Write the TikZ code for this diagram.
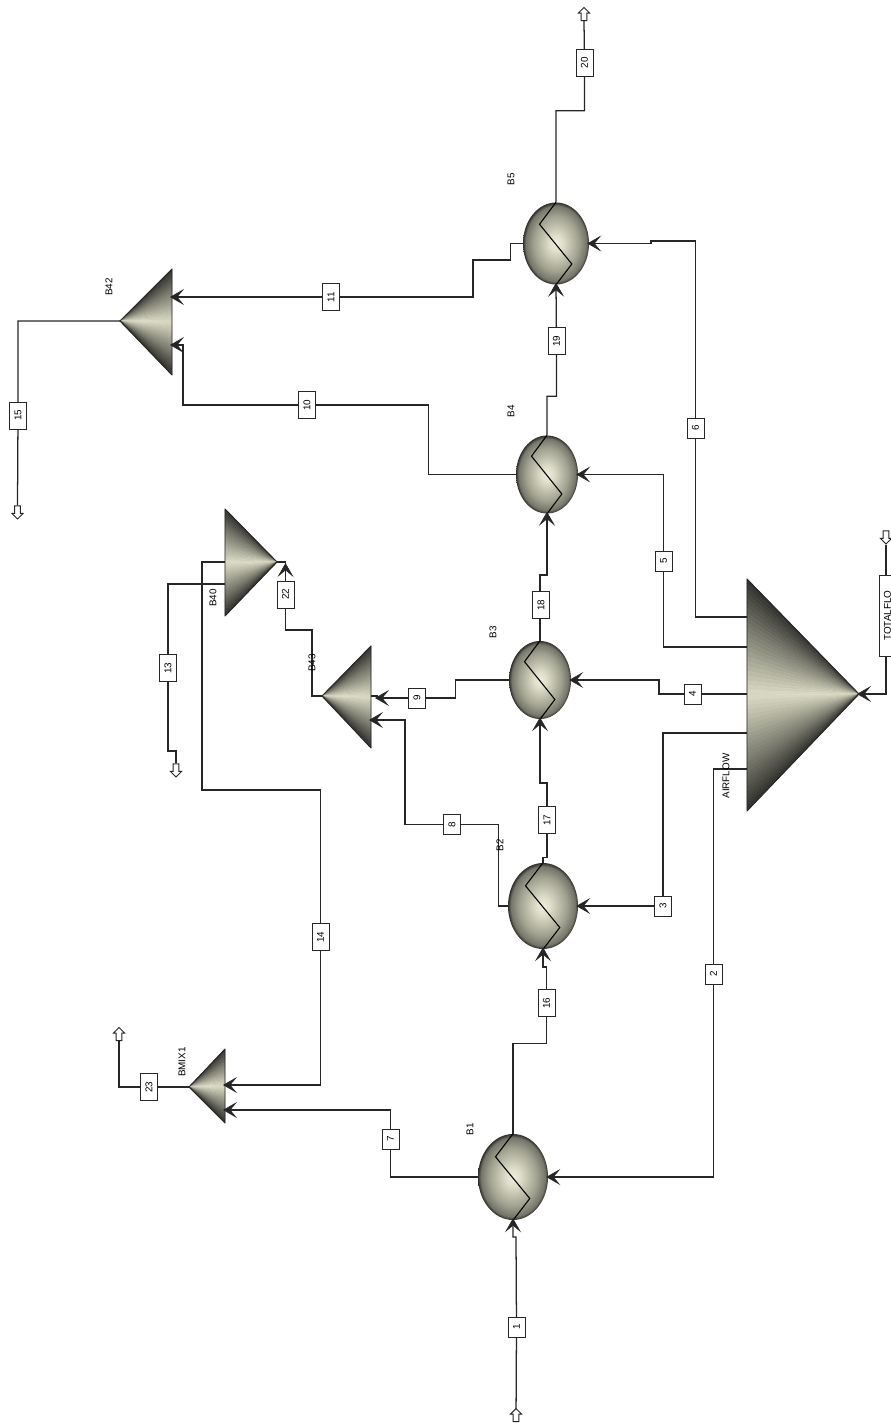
\documentclass[tikz,border=0pt]{standalone}
\usepackage{fontspec}
\setmainfont{Liberation Sans}
\usetikzlibrary{shapes.geometric, shapes.arrows, arrows.meta, calc, backgrounds}
\definecolor{lineDark}{HTML}{262626}
\definecolor{mixDark}{HTML}{30302C}
\definecolor{mixLight}{HTML}{DBDBC4}
\pgfdeclareradialshading{hxBall}{\pgfpointorigin}{
    color(0bp)=(white!50!mixLight); color(5bp)=(white!10!mixLight); color(17bp)=(mixLight!66!mixDark); color(23bp)=(mixLight!40!mixDark); color(25bp)=(mixDark); color(50bp)=(mixDark)}
\tikzset{
    stream/.style={draw=lineDark, line width=0.95pt},
    feed/.style={stream, shorten >=-1.5pt, -{Stealth[length=10.5pt, width=12pt, inset=5pt, line width=0.5pt]}},
    hxblock/.style={ellipse, inner sep=0pt, shading=hxBall},
    tag/.style={draw=lineDark, fill=white, rotate=90, inner sep=0pt, minimum height=12.75pt, minimum width=15pt, font=\fontsize{7.4}{8}\selectfont},
    tagwide/.style={tag, minimum width=20.25pt},
    blocklab/.style={rotate=90, inner sep=0pt, font=\fontsize{7.4}{8}\selectfont},
    port/.style={single arrow, draw=lineDark, fill=white, line width=0.7pt, inner sep=0pt, text height=3.6pt, text depth=0pt, text width=0pt, minimum height=9.75pt, single arrow head extend=2pt},
    portup/.style={port, rotate=90},
    portdown/.style={port, rotate=-90}
}
\newcommand{\DrawHX}[5]{
    % #1: name, #2: x, #3: y, #4: half width, #5: half height
    \node[hxblock, minimum width=1.5pt*#4, minimum height=1.5pt*#5] (#1) at (#2, #3) {};
    \draw[line width=0.8pt, black] (#1.north) -- ($(#1.center)+(-0.5*#4, -0.47*#5)$) -- ($(#1.center)+(0.48*#4, 0.5*#5)$) -- (#1.south);
}
\newcommand{\DrawMixer}[6]{
    % #1: name, #2: apex x, #3: apex y, #4: base x, #5: base top, #6: base bottom
    \coordinate (#1-out) at (#2, #3);
    \foreach \i in {0,...,47} {
        \pgfmathsetmacro{\ya}{#5+(#6-#5)*\i/48}
        \pgfmathsetmacro{\yb}{#5+(#6-#5)*(\i+1)/48}
        \pgfmathsetmacro{\mixp}{100*(1-abs((\i+0.5)/24-1))}
        \filldraw[fill=mixLight!\mixp!mixDark, draw=mixLight!\mixp!mixDark, line width=0.2pt, line join=round] (#1-out) -- (#4, \ya) -- (#4, \yb) -- cycle;
    }
    \draw[lineDark, line width=0.7pt, line join=round] (#1-out) -- (#4, #5) -- (#4, #6) -- cycle;
}

\begin{document}
\begin{tikzpicture}[x=0.75pt, y=-0.75pt]
    \useasboundingbox (0, 0) rectangle (891, 1423);

    \begin{scope}[on background layer]
        % Exchangers
        \DrawHX{B1}{513}{1177}{35}{43}
        \DrawHX{B2}{543}{906}{35}{43}
        \DrawHX{B3}{540}{680}{31}{39}
        \DrawHX{B4}{547}{474.5}{31}{39}
        \DrawHX{B5}{556}{243.5}{33}{41}

        % Splitters and mixers
        \DrawMixer{AIRFLOW}{859}{694}{747}{579}{811}
        \DrawMixer{B40}{277}{562}{225}{509}{616}
        \DrawMixer{B43}{322}{696}{371}{646}{748}
        \DrawMixer{B42}{120}{321}{172}{269}{375}
        \DrawMixer{BMIX1}{189}{1087}{225}{1049}{1123}
    \end{scope}

    % Ports on the block edges
    \coordinate (AIRFLOW-o2) at (747, 769);
    \coordinate (AIRFLOW-o3) at (747, 733);
    \coordinate (AIRFLOW-o4) at (747, 694);
    \coordinate (AIRFLOW-o5) at (747, 647);
    \coordinate (AIRFLOW-o6) at (747, 617);
    \coordinate (B40-o13) at (225, 584);
    \coordinate (B40-o14) at (225, 562);
    \coordinate (B43-in1) at (371, 696);
    \coordinate (B43-in2) at (371, 720);
    \coordinate (B42-in1) at (172, 297);
    \coordinate (B42-in2) at (172, 345);
    \coordinate (BMIX1-in1) at (225, 1085);
    \coordinate (BMIX1-in2) at (225, 1110);

    % Block names
    \node[blocklab] (B1lab) at (470, 1129) {B1};
    \node[blocklab] (B2lab) at (500, 845) {B2};
    \node[blocklab] (B3lab) at (493, 632) {B3};
    \node[blocklab] (B4lab) at (511, 411) {B4};
    \node[blocklab] (B5lab) at (511, 179) {B5};
    \node[blocklab] (B42lab) at (109, 287) {B42};
    \node[blocklab] (B40lab) at (213, 598) {B40};
    \node[blocklab] (B43lab) at (312, 663) {B43};
    \node[blocklab] (BMIX1lab) at (182, 1062) {BMIX1};
    \node[blocklab] (AIRFLOWlab) at (726, 776) {AIRFLOW};

    % Stream tags
    \node[tag] (T1) at (516.5, 1327) {1};
    \node[tag] (T2) at (713.5, 974) {2};
    \node[tag] (T3) at (663, 906) {3};
    \node[tag] (T4) at (692.5, 694) {4};
    \node[tag] (T5) at (663.5, 561) {5};
    \node[tag] (T6) at (695.5, 428) {6};
    \node[tag] (T7) at (390.5, 1139) {7};
    \node[tag] (T8) at (452, 824.5) {8};
    \node[tag] (T9) at (417, 698) {9};
    \node[tagwide] (T10) at (307, 405) {10};
    \node[tagwide] (T11) at (331, 297) {11};
    \node[tagwide] (T13) at (168, 668) {13};
    \node[tagwide] (T14) at (320.5, 937) {14};
    \node[tagwide] (T15) at (18, 415.5) {15};
    \node[tagwide] (T16) at (546.5, 1003) {16};
    \node[tagwide] (T17) at (547, 820) {17};
    \node[tagwide] (T18) at (541, 605) {18};
    \node[tagwide] (T19) at (556.5, 341) {19};
    \node[tagwide] (T20) at (584.5, 63) {20};
    \node[tagwide] (T22) at (285.5, 594.5) {22};
    \node[tagwide] (T23) at (149, 1087) {23};
    \node[tag, minimum width=60.75pt] (TOTALFLO) at (887.5, 615.5) {TOTALFLO};

    % Open ends
    \node[portup] (P1) at (516, 1416.5) {};
    \node[portup] (P20) at (584, 15.5) {};
    \node[portup] (P23) at (119, 1035.5) {};
    \node[portdown] (P13) at (176, 769) {};
    \node[portdown] (P15) at (17.5, 511) {};
    \node[portdown] (PTOT) at (886, 536) {};

    % Streams
    \begin{scope}[on background layer]
        \draw[feed] (P1.tail) -- (T1.center) -- (516, 1237) -| (B1.south);
        \draw[feed] (AIRFLOW-o2) -| (T2.center) |- (B1.east);
        \draw[feed] (AIRFLOW-o3) -| (T3.center) -- (B2.east);
        \draw[feed] (AIRFLOW-o4) -- (T4.center) -- (659, 694) |- (B3.east);
        \draw[feed] (AIRFLOW-o5) -| (T5.center) |- (B4.east);
        \draw[feed] (AIRFLOW-o6) -| (T6.center) |- (651, 241) |- (B5.east);
        \draw[feed] (B1.west) -| (T7.center) |- (BMIX1-in2);
        \draw[feed] (B2.west) -- ++(-9, 0) |- (T8.center) -| (405, 720) -- (B43-in2);
        \draw[feed] (B3.west) -- ++(-53, 0) |- (T9.center) -- (377, 698);
        \draw[stream] (377, 698) -- (377, 696) -- (B43-in1);
        \draw[feed] (B4.west) -- ++(-87, 0) |- (T10.center) -| (183, 345) -- (B42-in2);
        \draw[feed] (B5.west) -- ++(-12, 0) |- (473, 260) |- (T11.center) -- (B42-in1);
        \draw[stream] (B40-o13) -| (T13.center) |- (176, 751) -- (P13.tail);
        \draw[feed] (B40-o14) -| (202, 790) -| (T14.center) |- (BMIX1-in1);
        \draw[stream] (B42-out) -| (T15.center) -- (P15.tail);
        \draw[feed] (B1.north) -- ++(0, -90) -| (T16.center) -- (546.5, 967) -| (B2.south);
        \draw[feed] (B2.north) -- ++(0, -5) -| (T17.center) -- (547, 783) -| (B3.south);
        \draw[feed] (B3.north) -- (540, 575) -| (B4.south);
        \draw[feed] (B4.north) -- ++(0, -39) -| (T19.center) -- (B5.south);
        \draw[stream] (B5.north) -- ++(0, -91.5) -| (T20.center) -- (P20.tail);
        \draw[feed] (B43-out) -- ++(-10, 0) -- ++(0, -66) -| (T22.center) -- (285.5, 565);
        \draw[stream] (285.5, 565) -- (285.5, 562) -- (B40-out);
        \draw[stream] (BMIX1-out) -- (T23.center) -| (P23.tail);
        \draw[feed] (PTOT.tip) |- (AIRFLOW-out);
    \end{scope}
\end{tikzpicture}
\end{document}
